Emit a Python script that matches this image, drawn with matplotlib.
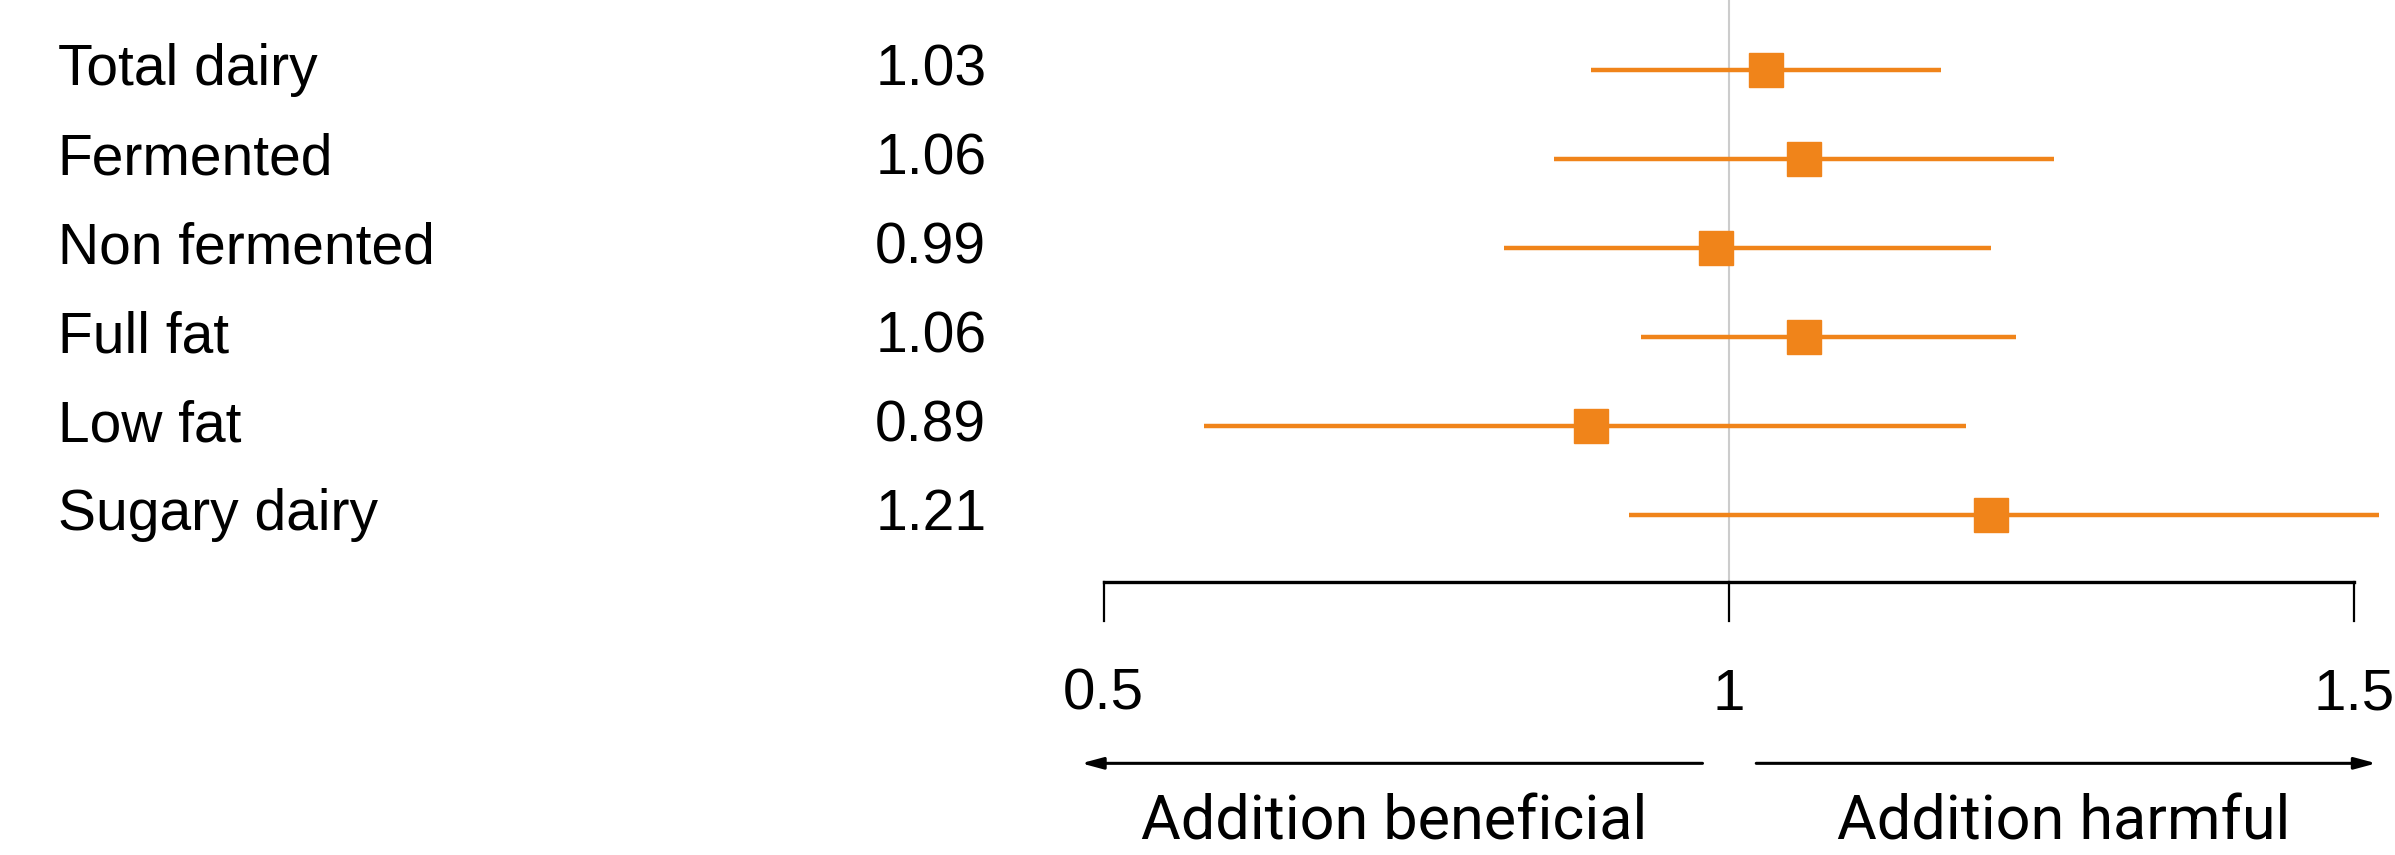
import matplotlib
matplotlib.use("Agg")
import matplotlib.pyplot as plt
import numpy as np

# forest plot data
labels = ["Total dairy", "Fermented", "Non fermented", "Full fat", "Low fat", "Sugary dairy"]
estimates = [1.03, 1.06, 0.99, 1.06, 0.89, 1.21]
ci_low = [0.89, 0.86, 0.82, 0.93, 0.58, 0.92]
ci_high = [1.17, 1.26, 1.21, 1.23, 1.19, 1.52]
tick_values = [0.5, 1, 1.5]
tick_labels = ["0.5", "1", "1.5"]

orange = "#F0841A"

fig = plt.figure(figsize=(23.95, 8.55), dpi=100)
ax = fig.add_axes([0, 0, 1, 1])
ax.set_xlim(-0.383, 1.533)
ax.set_ylim(8.82, -0.787)
ax.axis("off")

rows = np.arange(len(labels))

# reference line at 1
ax.plot([1, 1], [-0.787, 5.75], color="#cccccc", lw=1.5, zorder=1)

# confidence intervals and point estimates
ax.hlines(rows, ci_low, ci_high, color=orange, lw=3.2, zorder=2)
ax.plot(estimates, rows, "s", color=orange, markersize=25, zorder=3)

# row labels and values
for i in rows:
    ax.text(-0.337, i, labels[i], ha="left", va="center", fontsize=41,
            family="Liberation Sans")
    ax.text(0.406, i, "%.2f" % estimates[i], ha="right", va="center", fontsize=41,
            family="Liberation Sans")

# custom x axis
ax.plot([tick_values[0], tick_values[-1]], [5.75, 5.75], color="black", lw=2.4, zorder=2)
for v, t in zip(tick_values, tick_labels):
    ax.plot([v, v], [5.75, 6.19], color="black", lw=1.6)
    ax.text(v, 7.02, t, ha="center", va="center", fontsize=42, family="Liberation Sans")

# direction arrows
arrow_style = dict(arrowstyle="-|>,head_length=1.3,head_width=0.35",
                   color="black", lw=2.2, shrinkA=0, shrinkB=0)
ax.annotate("", xy=(0.482, 7.79), xytext=(0.979, 7.79), arrowprops=arrow_style)
ax.annotate("", xy=(1.518, 7.79), xytext=(1.022, 7.79), arrowprops=arrow_style)
ax.text(0.732, 8.65, "Addition beneficial", ha="center", va="baseline", fontsize=44,
        family="Roboto")
ax.text(1.268, 8.65, "Addition harmful", ha="center", va="baseline", fontsize=44,
        family="Roboto")

fig.savefig("out.png", dpi=100)
